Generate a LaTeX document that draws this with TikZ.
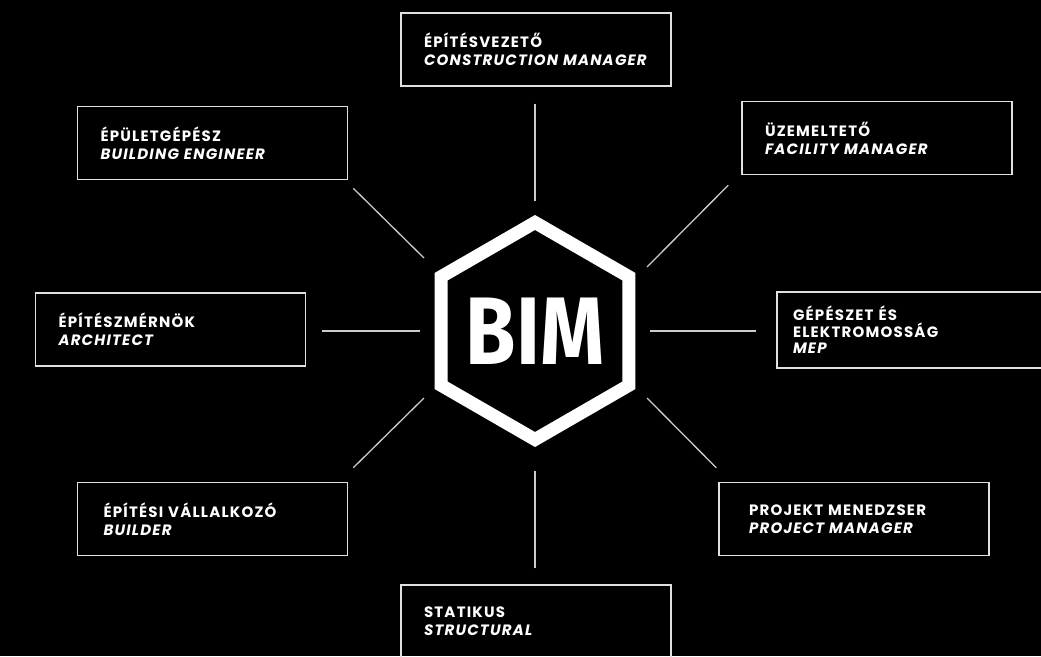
\documentclass[tikz,border=0pt]{standalone}
\usepackage{fontspec}
\setmainfont{Poppins}[LetterSpace=8]
\newfontfamily\bimfont{Fira Sans}
\usetikzlibrary{shapes.geometric}

\begin{document}
\begin{tikzpicture}[x=1pt, y=-1pt,
    role/.style={rectangle, draw=white!88!black, line width=1.5pt, minimum width=270pt, minimum height=73pt, inner xsep=23pt, text width=224pt, align=left, text=white, font=\fontsize{15}{18}\selectfont\bfseries},
    hub/.style={regular polygon, regular polygon sides=6, shape border rotate=30, draw=white, line width=13pt, line join=miter, minimum size=217pt, inner sep=0pt},
    hubtext/.style={text=white, inner sep=0pt, font=\bimfont\bfseries\fontsize{96}{96}\selectfont},
    spoke/.style={draw=white!80!black, line width=1.3pt}
]

% Background
\useasboundingbox (0,0) rectangle (1041,656);
\clip (0,0) rectangle (1041,656);
\fill[black] (0,0) rectangle (1041,656);

% Centre
\node[hub] (bim) at (535,331) {};
\node[hubtext] (bimlabel) at (bim.center) {\scalebox{0.85}[1]{BIM}};

% Roles
\node[role] (top) at (536,49.5) {ÉPÍTÉSVEZETŐ\\\itshape CONSTRUCTION MANAGER};
\node[role] (ul) at (212.5,143) {ÉPÜLETGÉPÉSZ\\\itshape BUILDING ENGINEER};
\node[role] (ur) at (877,138) {ÜZEMELTETŐ\\\itshape FACILITY MANAGER};
\node[role] (left) at (170.5,329.5) {ÉPÍTÉSZMÉRNÖK\\\itshape ARCHITECT};
\node[role, minimum height=76pt, inner xsep=16pt, text width=238pt, font=\fontsize{15}{16.5}\selectfont\bfseries] (right) at (912,330) {GÉPÉSZET ÉS\\ELEKTROMOSSÁG\\\itshape MEP};
\node[role, inner xsep=26pt, text width=218pt] (ll) at (212.5,519) {ÉPÍTÉSI VÁLLALKOZÓ\\\itshape BUILDER};
\node[role, inner xsep=30pt, text width=210pt] (lr) at (854,519) {PROJEKT MENEDZSER\\\itshape PROJECT MANAGER};
\node[role] (bottom) at (536,621.5) {STATIKUS\\\itshape STRUCTURAL};

% Spokes
\draw[spoke] ([yshift=-17pt]top.south -| bim.center) -- ([yshift=130pt]bim.center);
\draw[spoke] ([yshift=16pt]bottom.north -| bim.center) -- ([yshift=-140pt]bim.center);
\draw[spoke] ([xshift=16pt]left.east |- bim.center) -- ([xshift=-115pt]bim.center);
\draw[spoke] ([xshift=-20pt]right.west |- bim.center) -- ([xshift=115pt]bim.center);
\draw[spoke] ([shift={(5pt,-8pt)}]ul.south east) -- ([shift={(-111pt,73pt)}]bim.center);
\draw[spoke] ([shift={(-13pt,-10pt)}]ur.south west) -- ([shift={(112pt,64pt)}]bim.center);
\draw[spoke] ([shift={(5pt,14pt)}]ll.north east) -- ([shift={(-111pt,-67pt)}]bim.center);
\draw[spoke] ([shift={(-2pt,14pt)}]lr.north west) -- ([shift={(112pt,-67pt)}]bim.center);

\end{tikzpicture}
\end{document}
